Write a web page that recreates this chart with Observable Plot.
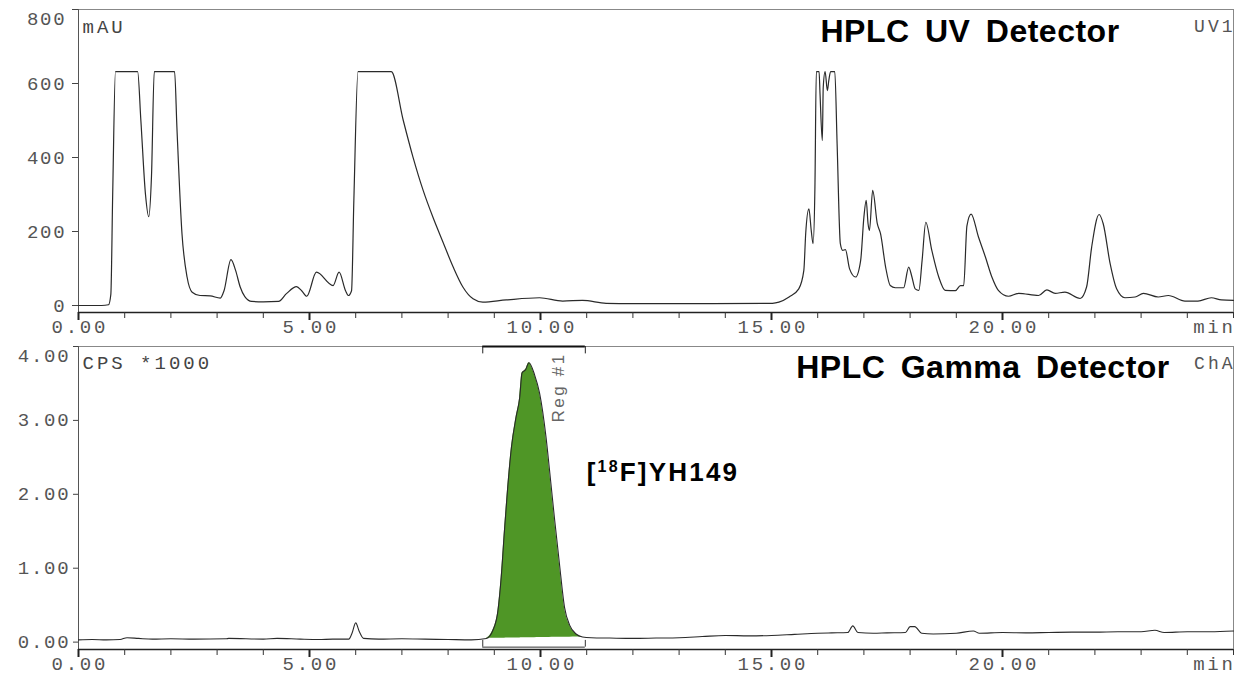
<!DOCTYPE html>
<html><head><meta charset="utf-8">
<script src="https://cdn.jsdelivr.net/npm/d3@7"></script>
<script src="https://cdn.jsdelivr.net/npm/@observablehq/plot@0.6"></script>
<style>body{margin:0;background:#fff}#chart svg{display:block}</style>
</head><body><div id="chart"></div>
<script>
// ---- UV detector trace (min, mAU) ----
const uvTime = [0,0.5,0.65,0.7,0.74,0.8,1.28,1.35,1.45,1.52,1.58,1.64,2.08,2.13,2.24,2.35,2.46,2.63,2.85,3.07,3.15,3.30,3.40,3.5,3.6,3.75,4.0,4.33,4.5,4.72,4.83,4.94,5.15,5.51,5.64,5.78,5.84,5.91,5.96,6.05,6.77,7.03,7.24,7.46,7.67,7.89,8.11,8.32,8.54,8.75,9.26,9.98,10.48,10.91,11.42,11.99,13.72,15.02,15.16,15.38,15.59,15.70,15.74,15.81,15.86,15.90,15.94,15.97,16.03,16.05,16.10,16.12,16.16,16.21,16.24,16.28,16.37,16.42,16.49,16.54,16.60,16.69,16.82,16.93,17.00,17.05,17.09,17.12,17.19,17.29,17.36,17.47,17.57,17.68,17.86,17.97,18.04,18.11,18.19,18.26,18.34,18.47,18.62,18.76,18.98,19.09,19.16,19.23,19.32,19.48,19.63,19.77,19.91,20.13,20.35,20.78,20.96,21.14,21.35,21.68,21.82,21.93,22.09,22.18,22.33,22.47,22.65,22.87,23.05,23.37,23.59,23.95,24.23,24.52,24.74,25.0];
const uvAbs = [0,0,2,30,300,632,632,500,300,240,350,632,632,482,194,77,36,27,26,20,40,124,95,50,24,11,10,11,32,51,40,25,90,54,90,40,27,40,284,632,632,500,401,311,239,171,104,50,18,9,15,21,12,14,6,5,5,6,9,23,45,95,194,261,203,167,320,632,632,573,446,590,632,581,608,632,632,437,167,149,151,99,77,122,239,284,221,203,311,221,194,104,54,48,48,104,77,45,41,122,225,149,77,41,40,54,54,215,247,185,131,77,41,25,33,27,42,33,36,19,50,158,246,221,113,45,21,23,33,23,27,12,12,21,15,14];

// ---- Gamma detector trace (min, CPS*1000) ----
const gammaTime = [0,0.3,0.6,0.9,1.05,1.3,1.6,2.0,2.5,3.2,3.25,4.0,4.3,4.8,5.2,5.5,5.85,5.92,6.0,6.08,6.17,6.5,7.0,7.5,8.0,8.5,8.83,8.97,9.08,9.15,9.22,9.29,9.37,9.47,9.55,9.60,9.68,9.75,9.87,9.98,10.12,10.19,10.30,10.41,10.52,10.63,10.77,10.91,11.1,11.5,12.0,12.5,13.0,13.5,14.0,14.5,15.0,15.5,16.0,16.3,16.65,16.76,16.87,17.2,17.5,17.9,18.0,18.1,18.25,18.5,19.0,19.37,19.5,20.0,20.5,21.0,21.5,22.0,22.5,23.0,23.3,23.5,24.0,24.5,25.0];
const gammaKcps = [0.03,0.035,0.03,0.035,0.06,0.05,0.04,0.045,0.04,0.045,0.05,0.04,0.05,0.04,0.035,0.04,0.04,0.12,0.26,0.14,0.05,0.04,0.045,0.04,0.035,0.03,0.05,0.16,0.43,0.88,1.51,2.09,2.63,3.04,3.31,3.64,3.69,3.78,3.62,3.37,2.77,2.36,1.69,1.06,0.47,0.23,0.11,0.07,0.06,0.055,0.05,0.055,0.06,0.075,0.09,0.085,0.09,0.105,0.12,0.125,0.13,0.22,0.13,0.12,0.125,0.13,0.21,0.21,0.12,0.11,0.12,0.15,0.12,0.13,0.125,0.13,0.135,0.135,0.14,0.14,0.16,0.13,0.14,0.14,0.15];

// ---- axes / labels ----
const xMinor = d3.range(0, 26, 1);
const xMajor = [0, 5, 10, 15, 20];
const xMajorLabels = ["0.00", "5.00", "10.00", "15.00", "20.00"];
const xUnitLabel = "min";
const uvTicks = [0, 200, 400, 600, 800];
const uvTickLabels = ["0", "200", "400", "600", "800"];
const gammaTicks = [0, 1, 2, 3, 4];
const gammaTickLabels = ["0.00", "1.00", "2.00", "3.00", "4.00"];
const regionStart = 8.75, regionEnd = 10.97;
const peakStart = 8.83, peakEnd = 10.91;
const peakName = "[18F]YH149";

const uv = uvTime.map((t, i) => ({t, v: uvAbs[i]}));
const gamma = gammaTime.map((t, i) => ({t, v: gammaKcps[i]}));
const bStart = gammaKcps[gammaTime.indexOf(peakStart)], bEnd = gammaKcps[gammaTime.indexOf(peakEnd)];
const peak = gamma.filter(d => d.t >= peakStart && d.t <= peakEnd)
  .map(d => ({...d, base: bStart + (bEnd - bStart) * (d.t - peakStart) / (peakEnd - peakStart)}));

const W = 1238, H = 337, mono = "Liberation Mono", sans = "Liberation Sans";
const common = {width: W, height: H, marginLeft: 78, marginRight: 5, marginTop: 9, marginBottom: 25,
  x: {domain: [0, 25], axis: null, label: null}, style: {background: "white", overflow: "visible"}};

function xAxisMarks(yMin) {
  return [
    Plot.axisX({ticks: xMinor, tickSize: 6, text: null, label: null, stroke: "#333"}),
    Plot.axisX({ticks: xMajor, tickSize: 8, strokeWidth: 2, text: null, label: null, stroke: "#222"}),
    Plot.text(xMajor, {x: d => d, y: yMin, text: (d, i) => xMajorLabels[i], dy: 14, dx: 1.3, fontFamily: mono, fontSize: 19, fill: "#555", ariaDescription: "xlab"}),
    Plot.text([xUnitLabel], {x: 25, y: yMin, dy: 14, dx: 2, textAnchor: "end", fontFamily: mono, fontSize: 19, fill: "#555", ariaDescription: "xlab"})
  ];
}
function frameMarks(yMin) {
  return [
    Plot.frame({stroke: "#888"}),
    Plot.ruleX([0], {stroke: "#555"}),
    Plot.ruleY([yMin], {stroke: "#222", strokeWidth: 1.5})
  ];
}

const uvMin = -18.9;
const uvChart = Plot.plot({...common, y: {domain: [uvMin, 800], axis: null, label: null}, marks: [
  ...frameMarks(uvMin),
  Plot.axisY({ticks: uvTicks, tickSize: 6, text: null, label: null, stroke: "#444"}),
  Plot.text(uvTicks.slice(0, 4), {x: 0, y: d => d, text: (d, i) => uvTickLabels[i], dx: -12, textAnchor: "end", fontFamily: mono, fontSize: 19, fill: "#555", ariaDescription: "ylab"}),
  Plot.text([800], {x: 0, y: d => d, text: ["800"], dx: -12, dy: 9, textAnchor: "end", fontFamily: mono, fontSize: 19, fill: "#555", ariaDescription: "ylab"}),
  ...xAxisMarks(uvMin),
  Plot.line(uv, {x: "t", y: "v", stroke: "#2a2a2a", strokeWidth: 1.2, curve: "monotone-x"}),
  Plot.text(["mAU"], {frameAnchor: "top-left", dx: 4, dy: 23, lineAnchor: "bottom", textAnchor: "start", fontFamily: mono, fontSize: 19, fill: "#444", ariaDescription: "unit"}),
  Plot.text(["UV1"], {frameAnchor: "top-right", dx: 2, dy: 22, lineAnchor: "bottom", textAnchor: "end", fontFamily: mono, fontSize: 18, fill: "#555", ariaDescription: "unit"}),
  Plot.text(["HPLC UV Detector"], {frameAnchor: "top", dx: 314, dy: 32, lineAnchor: "bottom", fontFamily: sans, fontWeight: "bold", fontSize: 32, fill: "#000", ariaDescription: "title"})
]});

const gMin = -0.1;
const gammaChart = Plot.plot({...common, y: {domain: [gMin, 4], axis: null, label: null}, marks: [
  ...frameMarks(gMin),
  Plot.axisY({ticks: gammaTicks, tickSize: 5, text: null, label: null, stroke: "#444"}),
  Plot.text(gammaTicks.slice(0, 4), {x: 0, y: d => d, text: (d, i) => gammaTickLabels[i], dx: -8, textAnchor: "end", fontFamily: mono, fontSize: 19, fill: "#555", ariaDescription: "ylab"}),
  Plot.text([4], {x: 0, y: d => d, text: ["4.00"], dx: -8, dy: 9, textAnchor: "end", fontFamily: mono, fontSize: 19, fill: "#555", ariaDescription: "ylab"}),
  ...xAxisMarks(gMin),
  Plot.areaY(peak, {x: "t", y1: "base", y2: "v", fill: "#4f9626", curve: "monotone-x"}),
  Plot.line(gamma, {x: "t", y: "v", stroke: "#2a2a2a", strokeWidth: 1.1, curve: "monotone-x"}),
  Plot.ruleY([4], {x1: regionStart, x2: regionEnd, stroke: "#111", strokeWidth: 1.8}),
  Plot.ruleX([regionStart, regionEnd], {y1: 4, y2: 3.9, stroke: "#222", strokeWidth: 1}),
  Plot.ruleY([-0.068], {x1: regionStart, x2: regionEnd, stroke: "#333", strokeWidth: 1}),
  Plot.ruleX([regionStart, regionEnd], {y1: -0.068, y2: 0.023, stroke: "#333", strokeWidth: 1}),
  Plot.text(["Reg #1"], {x: 10.5, y: 2.97, rotate: -90, textAnchor: "start", lineAnchor: "bottom", fontFamily: sans, fontSize: 17, fill: "#666", ariaDescription: "reg"}),
  Plot.text([peakName], {x: 11.0, y: 2.18, textAnchor: "start", lineAnchor: "bottom", fontFamily: sans, fontWeight: "bold", fontSize: 26, fill: "#000", ariaDescription: "peakname"}),
  Plot.text(["CPS *1000"], {frameAnchor: "top-left", dx: 4, dy: 22, lineAnchor: "bottom", textAnchor: "start", fontFamily: mono, fontSize: 19, fill: "#444", ariaDescription: "unit"}),
  Plot.text(["ChA"], {frameAnchor: "top-right", dx: 2, dy: 22, lineAnchor: "bottom", textAnchor: "end", fontFamily: mono, fontSize: 18, fill: "#555", ariaDescription: "unit"}),
  Plot.text(["HPLC Gamma Detector"], {frameAnchor: "top", dx: 327, dy: 31, lineAnchor: "bottom", fontFamily: sans, fontWeight: "bold", fontSize: 32, fill: "#000", ariaDescription: "title"})
]});

function tune(svg) {
  const set = (label, attrs) => svg.querySelectorAll(`g[aria-description="${label}"]`).forEach(g => {
    for (const k in attrs) g.setAttribute(k, attrs[k]);
  });
  set("xlab", {"letter-spacing": "2.7"});
  set("ylab", {"letter-spacing": "1.8"});
  set("unit", {"letter-spacing": "3"});
  set("title", {"letter-spacing": "0.5", "word-spacing": "6"});
  set("reg", {"letter-spacing": "2.6"});
  set("peakname", {"letter-spacing": "2.2"});
  svg.querySelectorAll('g[aria-description="peakname"] text').forEach(t => {
    const s = t.textContent;
    const m = s.match(/^\[(\d+)(.*)$/);
    if (m) {
      t.textContent = "";
      const ns = "http://www.w3.org/2000/svg";
      t.appendChild(document.createTextNode("["));
      const sup = document.createElementNS(ns, "tspan");
      sup.setAttribute("font-size", "16"); sup.setAttribute("dy", "-9"); sup.textContent = m[1];
      const rest = document.createElementNS(ns, "tspan");
      rest.setAttribute("dy", "9"); rest.textContent = m[2];
      t.appendChild(sup); t.appendChild(rest);
    }
  });
}
tune(uvChart); tune(gammaChart);
document.getElementById("chart").append(uvChart, gammaChart);
</script></body></html>
